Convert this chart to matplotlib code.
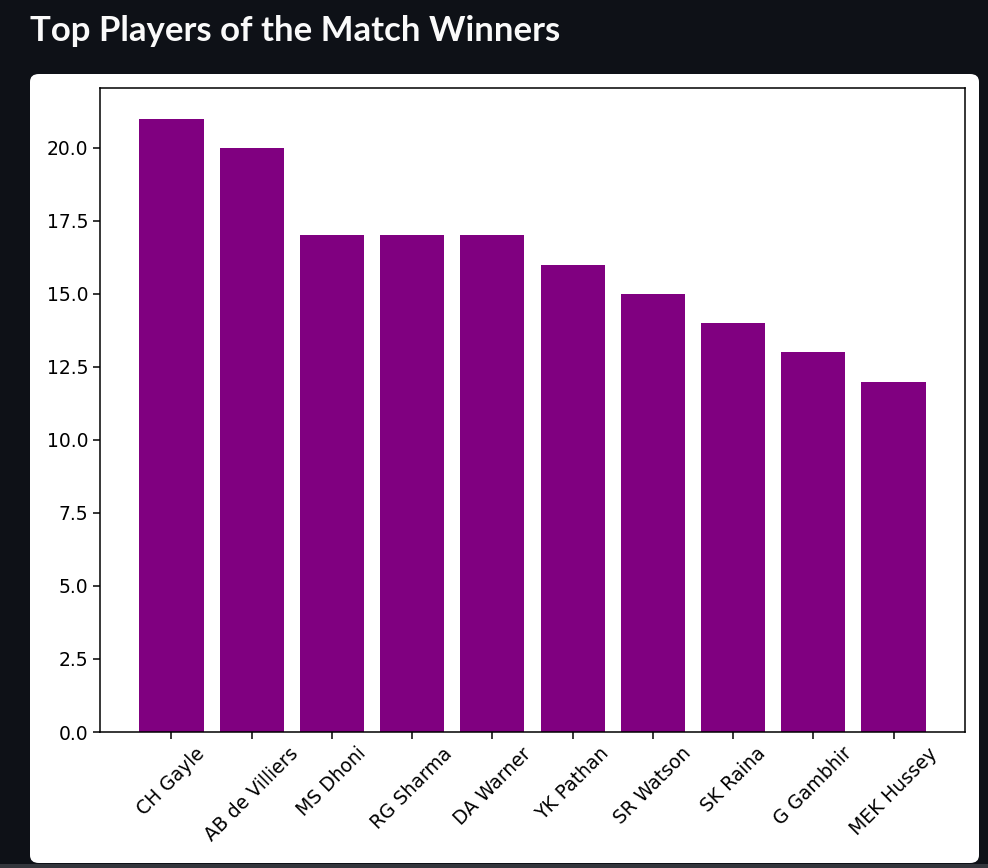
import matplotlib
matplotlib.use("Agg")
import matplotlib.pyplot as plt
from matplotlib.patches import FancyBboxPatch, Rectangle

plt.rcParams["font.family"] = ["DejaVu Sans"]

# --- Data ---
players = ["CH Gayle", "AB de Villiers", "MS Dhoni", "RG Sharma", "DA Warner",
           "YK Pathan", "SR Watson", "SK Raina", "G Gambhir", "MEK Hussey"]
awards = [21, 20, 17, 17, 17, 16, 15, 14, 13, 12]

W, H = 988, 868
fig = plt.figure(figsize=(W / 100, H / 100), dpi=100)
fig.patch.set_facecolor("#0e1117")

# white card behind the chart (streamlit style)
card = FancyBboxPatch((30 / W, 1 - 863 / H), 949 / W, 789 / H,
                      boxstyle="round,pad=0,rounding_size=0.009",
                      transform=fig.transFigure, facecolor="white",
                      edgecolor="none", zorder=-5)
fig.patches.append(card)
# thin grey strip at the very bottom of the page
fig.patches.append(Rectangle((0, 0), 1, 4 / H, transform=fig.transFigure,
                             facecolor="#33363c", edgecolor="none", zorder=-4))

fig.text(30 / W, 1 - 31 / H, "Top Players of the Match Winners",
         color="#fafafa", fontsize=25, fontweight="bold", family="Lato",
         va="center", ha="left")

ax = fig.add_axes([100 / W, 1 - 732 / H, 865 / W, 644 / H])
ax.bar(players, awards, color="purple")
ax.tick_params(labelsize=13.5, length=5, width=1.1, pad=3.6)
for s in ax.spines.values():
    s.set_linewidth(1.1)
plt.setp(ax.get_xticklabels(), rotation=45)

fig.savefig("out.png", dpi=100, facecolor=fig.get_facecolor())
